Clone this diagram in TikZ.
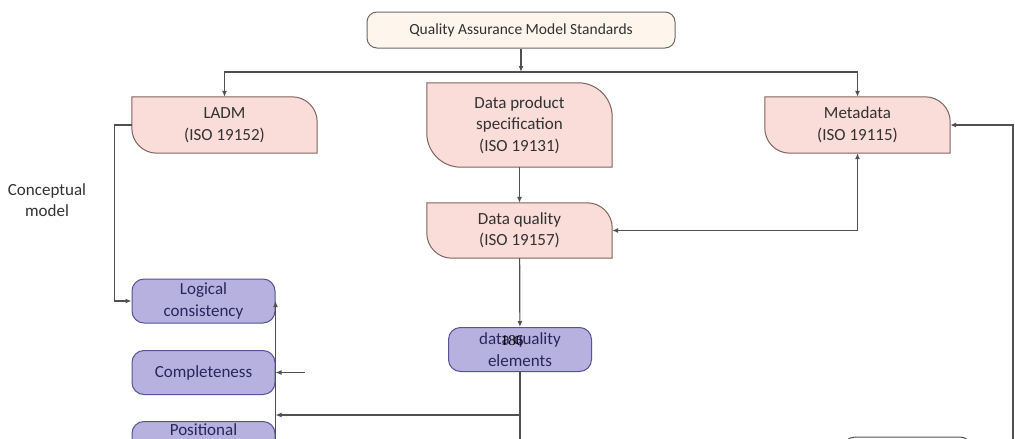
\documentclass[tikz,border=0pt]{standalone}
\usepackage{fontspec}
\setmainfont{Carlito}
\newfontfamily\pgnumfont{Liberation Serif}
\usetikzlibrary{arrows.meta,backgrounds}

\definecolor{pinkfill}{RGB}{250,220,216}
\definecolor{pinkline}{RGB}{125,100,96}
\definecolor{creamfill}{RGB}{254,245,236}
\definecolor{creamline}{RGB}{110,105,100}
\definecolor{lavfill}{RGB}{182,177,222}
\definecolor{lavline}{RGB}{88,82,150}
\definecolor{lavtext}{RGB}{40,38,90}
\definecolor{linkgray}{RGB}{80,80,80}
\definecolor{txtgray}{RGB}{50,50,50}

\tikzset{
  qatitle/.style={draw=creamline, fill=creamfill, rounded corners=10pt, line width=1pt,
    minimum width=308pt, minimum height=36pt, inner sep=0pt, text=txtgray,
    font=\fontsize{15.5}{19}\selectfont},
  std/.style={minimum width=185pt, inner sep=0pt, align=center, text=txtgray,
    font=\fontsize{17}{21.5}\selectfont},
  stdline/.style={draw=pinkline, fill=pinkfill, line width=1pt},
  element/.style={draw=lavline, fill=lavfill, rounded corners=12pt, line width=1pt,
    minimum width=143pt, minimum height=44pt, inner sep=0pt, align=center, text=lavtext,
    font=\fontsize{17}{21.5}\selectfont},
  plain/.style={align=center, text=txtgray, font=\fontsize{17}{21.5}\selectfont},
  link/.style={draw=linkgray, line width=1.2pt, -{Latex[length=6pt,width=5pt]}},
  linkline/.style={draw=linkgray, line width=1.2pt},
}

\begin{document}
\begin{tikzpicture}[x=1pt,y=1pt]
\useasboundingbox (0,0) rectangle (1015,-439);
\clip (0,0) rectangle (1015,-439);

\node[qatitle] (qams) at (521,-30) {Quality Assurance Model Standards};
\node[std, minimum height=56pt] (ladm) at (224.5,-125) {LADM\\(ISO 19152)};
\node[std, minimum height=84pt] (dps) at (519.5,-125) {Data product\\specification\\(ISO 19131)};
\node[std, minimum height=56pt] (meta) at (857.5,-125) {Metadata\\(ISO 19115)};
\node[std, minimum height=55pt] (dq) at (519.5,-230.5) {Data quality\\(ISO 19157)};
\node[plain] (concept) at (47,-200) {Conceptual\\model};

\begin{scope}[on background layer]
\foreach \n/\r in {ladm/25,dps/34,meta/25,dq/25}
  \draw[stdline] ([xshift=\r pt]\n.south west) -- (\n.south east)
    -- ([yshift=-\r pt]\n.north east) arc[start angle=0,end angle=90,radius=\r pt]
    -- (\n.north west) -- ([yshift=\r pt]\n.south west)
    arc[start angle=180,end angle=270,radius=\r pt] -- cycle;
\end{scope}

\node[element] (logic) at (203.5,-301) {Logical\\consistency};
\node[element] (compl) at (203.5,-372.5) {Completeness};
\node[element] (posit) at (203.5,-443.5) {Positional\\\strut};
\node[element] (dqe) at (520,-349.5) {data quality\\elements};
\node[font=\pgnumfont\fontsize{15}{15}\selectfont] (pgnum) at (512,-341) {186};
\node[element, draw=linkgray, fill=white, minimum width=129pt] (nextel) at (907.5,-459) {};

\coordinate (split) at (qams.south |- 0,-72);
\draw[link] (qams) -- (split);
\draw[link] (split) -| (ladm);
\draw[link] (split) -| (meta);
\draw[link] (dps) -- (dq);
\draw[link] (ladm.west) -- ++(-17,0) |- (logic.west);
\draw[link, {Latex[length=6pt,width=5pt]}-{Latex[length=6pt,width=5pt]}] (dq.east) -| (meta.south);
\coordinate (rbot) at (1013,-450);
\draw[link] (rbot) |- (meta.east);
\draw[link] (dq) -- (dqe);
\coordinate (dqbot) at (dqe.south |- 0,-450);
\draw[linkline] (dqe) -- (dqbot);
\coordinate (fork) at (dqe.south |- 0,-415);
\coordinate (rail) at (logic.east |- 0,-415);
\draw[link] (fork) -- (rail);
\coordinate (railbot) at (logic.east |- 0,-450);
\draw[link] (railbot) -- (logic.east);
\coordinate (stub) at (305,-372.5);
\draw[link] (stub) -- (compl.east);
\end{tikzpicture}
\end{document}
